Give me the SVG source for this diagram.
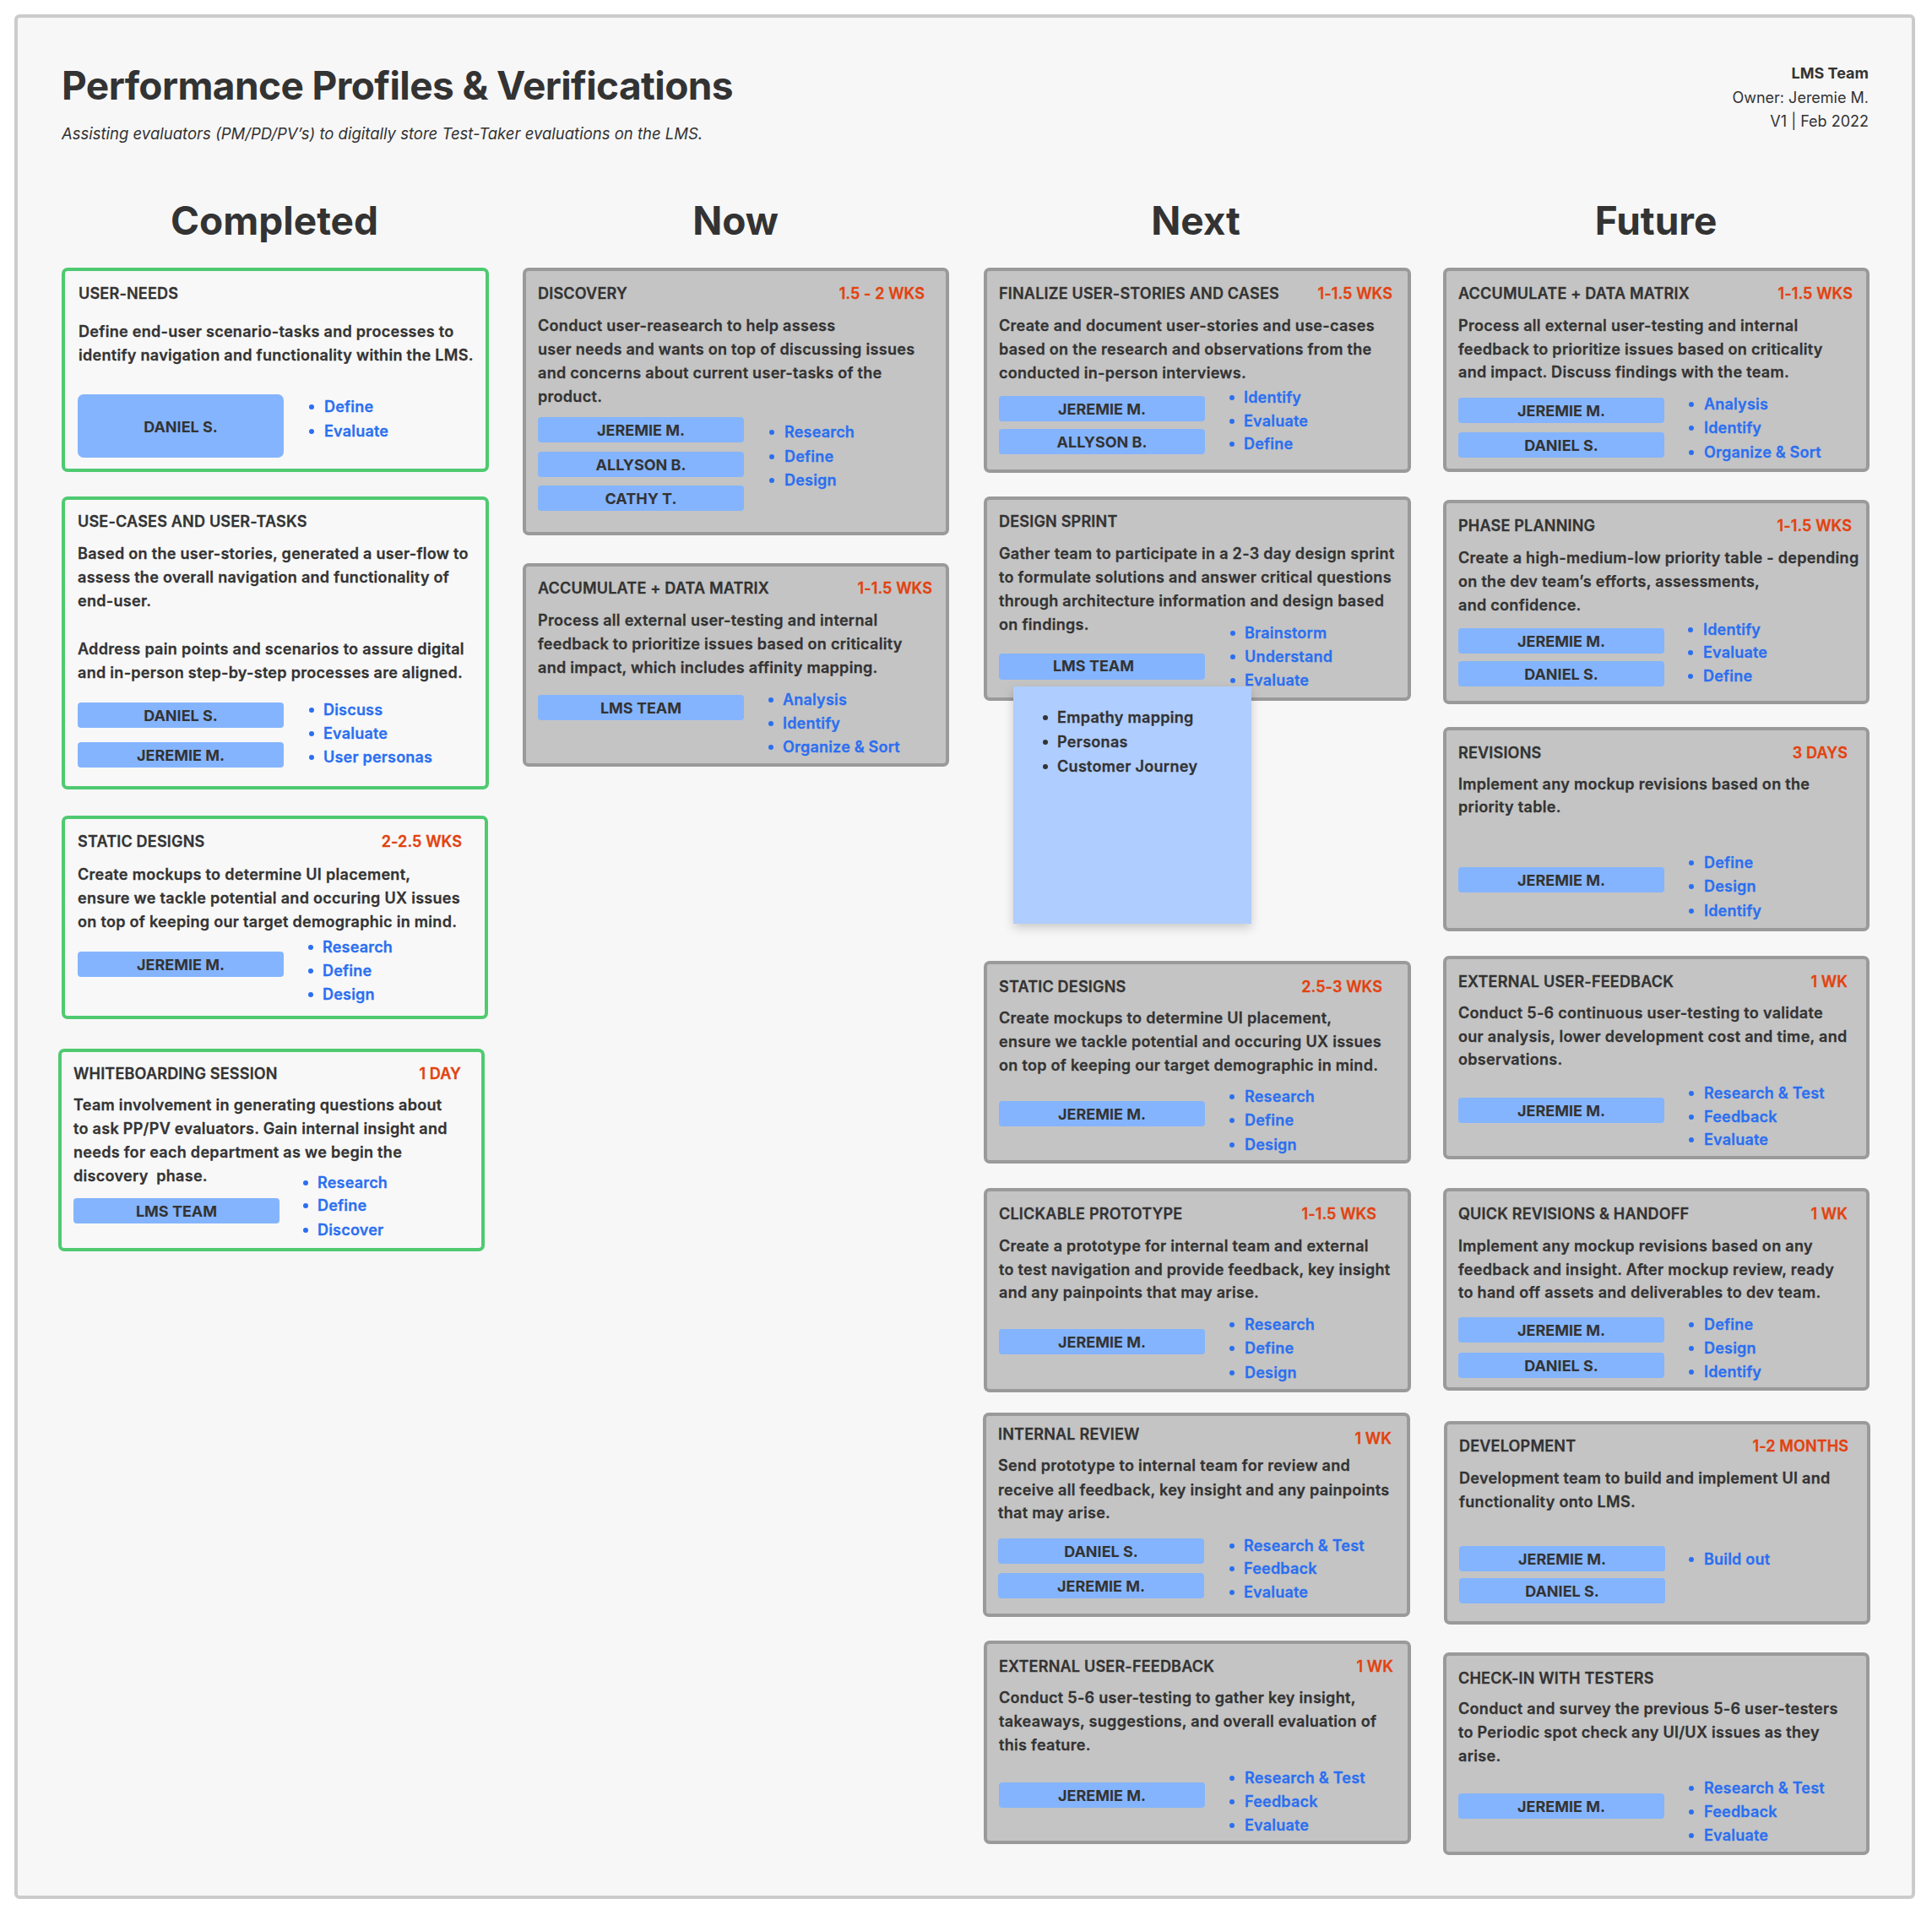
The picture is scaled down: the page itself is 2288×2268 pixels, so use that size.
<svg xmlns="http://www.w3.org/2000/svg" width="2288" height="2268" viewBox="0 0 2288 2268">
  <defs>
    <style>
      text { font-family: Inter, "Liberation Sans", "DejaVu Sans", sans-serif; }
      .frame { fill: #f7f7f7; stroke: #cbcbcb; stroke-width: 4; }
      .done { fill: #f8f8f8; stroke: #4fca71; stroke-width: 4; }
      .card { fill: #c4c4c4; stroke: #9a9a9a; stroke-width: 4; }
      .h1 { font-size: 46px; font-weight: 700; fill: #333333; letter-spacing: -0.6px; }
      .sub { font-size: 18.5px; font-style: italic; font-weight: 400; fill: #333333; }
      .meta { font-size: 18px; font-weight: 400; fill: #333333; text-anchor: end; }
      .metab { font-size: 18px; font-weight: 700; fill: #333333; text-anchor: end; }
      .col { font-size: 46px; font-weight: 700; fill: #333333; text-anchor: middle; }
      .ttl { font-size: 18px; font-weight: 600; fill: #333333; letter-spacing: 0.2px; stroke: #333333; stroke-width: 0.3px; }
      .dur { font-size: 18px; font-weight: 600; fill: #e2420f; text-anchor: end; letter-spacing: 0.1px; stroke: #e2420f; stroke-width: 0.3px; }
      .bd { font-size: 18px; font-weight: 600; fill: #333333; letter-spacing: 0.3px; stroke: #333333; stroke-width: 0.3px; }
      .pill { fill: #84b4fd; }
      .pn { font-size: 18px; font-weight: 700; fill: #333333; text-anchor: middle; }
      .bl { font-size: 18px; font-weight: 600; fill: #2b6ff0; letter-spacing: 0.2px; stroke: #2b6ff0; stroke-width: 0.3px; }
      .dot { fill: #2b6ff0; }
      .sticky { fill: #afcdfe; }
      .sdot { fill: #333333; }
    </style>
    <filter id="shadow" x="-20%" y="-20%" width="140%" height="140%">
      <feDropShadow dx="0" dy="5" stdDeviation="6" flood-color="#000000" flood-opacity="0.18"/>
    </filter>
  </defs>

  <!-- page -->
  <rect x="0" y="0" width="2288" height="2268" fill="#ffffff"/>
  <rect class="frame" x="19" y="19" width="2247" height="2228" rx="4"/>

  <!-- header -->
  <g id="header">
    <text class="h1" x="73" y="118">Performance Profiles &amp; Verifications</text>
    <text class="sub" x="73" y="165">Assisting evaluators (PM/PD/PV’s) to digitally store Test-Taker evaluations on the LMS.</text>
    <text class="metab" x="2213" y="93">LMS Team</text>
    <text class="meta" x="2213" y="122">Owner: Jeremie M.</text>
    <text class="meta" x="2213" y="150">V1 | Feb 2022</text>
  </g>

  <!-- column headings -->
  <g id="columns">
    <text class="col" x="325" y="278">Completed</text>
    <text class="col" x="871" y="278">Now</text>
    <text class="col" x="1416" y="278">Next</text>
    <text class="col" x="1961" y="278">Future</text>
  </g>

  <g id="connectors"/>

  <!-- ===== Completed ===== -->
  <g id="done-user-needs" transform="translate(73,317)">
    <rect class="done" x="2" y="2" width="502" height="238" rx="5"/>
    <text class="ttl" x="20" y="37">USER-NEEDS</text>
    <text class="bd" x="20" y="82">Define end-user scenario-tasks and processes to</text>
    <text class="bd" x="20" y="110">identify navigation and functionality within the LMS.</text>
    <rect class="pill" x="19" y="150" width="244" height="75" rx="7"/>
    <text class="pn" x="141" y="195">DANIEL S.</text>
    <circle class="dot" cx="296" cy="165" r="3"/><text class="bl" x="311" y="171">Define</text>
    <circle class="dot" cx="296" cy="194" r="3"/><text class="bl" x="311" y="200">Evaluate</text>
  </g>

  <g id="done-use-cases" transform="translate(73,588)">
    <rect class="done" x="2" y="2" width="502" height="343" rx="5"/>
    <text class="ttl" x="19" y="36">USE-CASES AND USER-TASKS</text>
    <text class="bd" x="19" y="74">Based on the user-stories, generated a user-flow to</text>
    <text class="bd" x="19" y="102">assess the overall navigation and functionality of</text>
    <text class="bd" x="19" y="130">end-user.</text>
    <text class="bd" x="19" y="187">Address pain points and scenarios to assure digital</text>
    <text class="bd" x="19" y="215">and in-person step-by-step processes are aligned.</text>
    <rect class="pill" x="19" y="244" width="244" height="30" rx="4"/>
    <text class="pn" x="141" y="266">DANIEL S.</text>
    <rect class="pill" x="19" y="291" width="244" height="30" rx="4"/>
    <text class="pn" x="141" y="313">JEREMIE M.</text>
    <circle class="dot" cx="296" cy="253" r="3"/><text class="bl" x="310" y="259">Discuss</text>
    <circle class="dot" cx="296" cy="281" r="3"/><text class="bl" x="310" y="287">Evaluate</text>
    <circle class="dot" cx="296" cy="309" r="3"/><text class="bl" x="310" y="315">User personas</text>
  </g>

  <g id="done-static-designs" transform="translate(73,966)">
    <rect class="done" x="2" y="2" width="501" height="237" rx="5"/>
    <text class="ttl" x="19" y="37">STATIC DESIGNS</text>
    <text class="dur" x="474" y="37">2-2.5 WKS</text>
    <text class="bd" x="19" y="76">Create mockups to determine UI placement,</text>
    <text class="bd" x="19" y="104">ensure we tackle potential and occuring UX issues</text>
    <text class="bd" x="19" y="132">on top of keeping our target demographic in mind.</text>
    <rect class="pill" x="19" y="161" width="244" height="30" rx="4"/>
    <text class="pn" x="141" y="183">JEREMIE M.</text>
    <circle class="dot" cx="295" cy="156" r="3"/><text class="bl" x="309" y="162">Research</text>
    <circle class="dot" cx="295" cy="184" r="3"/><text class="bl" x="309" y="190">Define</text>
    <circle class="dot" cx="295" cy="212" r="3"/><text class="bl" x="309" y="218">Design</text>
  </g>

  <g id="done-whiteboarding" transform="translate(69,1242)">
    <rect class="done" x="2" y="2" width="501" height="236" rx="5"/>
    <text class="ttl" x="18" y="36">WHITEBOARDING SESSION</text>
    <text class="dur" x="477" y="36">1 DAY</text>
    <text class="bd" x="18" y="73">Team involvement in generating questions about</text>
    <text class="bd" x="18" y="101">to ask PP/PV evaluators. Gain internal insight and</text>
    <text class="bd" x="18" y="129">needs for each department as we begin the</text>
    <text class="bd" x="18" y="157" xml:space="preserve">discovery  phase.</text>
    <rect class="pill" x="18" y="177" width="244" height="30" rx="4"/>
    <text class="pn" x="140" y="199">LMS TEAM</text>
    <circle class="dot" cx="293" cy="159" r="3"/><text class="bl" x="307" y="165">Research</text>
    <circle class="dot" cx="293" cy="186" r="3"/><text class="bl" x="307" y="192">Define</text>
    <circle class="dot" cx="293" cy="215" r="3"/><text class="bl" x="307" y="221">Discover</text>
  </g>

  <!-- ===== Now ===== -->
  <g id="now-discovery" transform="translate(619,317)">
    <rect class="card" x="2" y="2" width="501" height="313" rx="5"/>
    <text class="ttl" x="18" y="37">DISCOVERY</text>
    <text class="dur" x="476" y="37">1.5 - 2 WKS</text>
    <text class="bd" x="18" y="75">Conduct user-reasearch to help assess</text>
    <text class="bd" x="18" y="103">user needs and wants on top of discussing issues</text>
    <text class="bd" x="18" y="131">and concerns about current user-tasks of the</text>
    <text class="bd" x="18" y="159">product.</text>
    <rect class="pill" x="18" y="177" width="244" height="30" rx="4"/>
    <text class="pn" x="140" y="199">JEREMIE M.</text>
    <rect class="pill" x="18" y="218" width="244" height="30" rx="4"/>
    <text class="pn" x="140" y="240">ALLYSON B.</text>
    <rect class="pill" x="18" y="258" width="244" height="30" rx="4"/>
    <text class="pn" x="140" y="280">CATHY T.</text>
    <circle class="dot" cx="295" cy="195" r="3"/><text class="bl" x="310" y="201">Research</text>
    <circle class="dot" cx="295" cy="224" r="3"/><text class="bl" x="310" y="230">Define</text>
    <circle class="dot" cx="295" cy="252" r="3"/><text class="bl" x="310" y="258">Design</text>
  </g>

  <g id="now-accumulate" transform="translate(619,667)">
    <rect class="card" x="2" y="2" width="501" height="237" rx="5"/>
    <text class="ttl" x="18" y="36">ACCUMULATE + DATA MATRIX</text>
    <text class="dur" x="485" y="36">1-1.5 WKS</text>
    <text class="bd" x="18" y="74">Process all external user-testing and internal</text>
    <text class="bd" x="18" y="102">feedback to prioritize issues based on criticality</text>
    <text class="bd" x="18" y="130">and impact, which includes affinity mapping.</text>
    <rect class="pill" x="18" y="156" width="244" height="30" rx="4"/>
    <text class="pn" x="140" y="178">LMS TEAM</text>
    <circle class="dot" cx="294" cy="162" r="3"/><text class="bl" x="308" y="168">Analysis</text>
    <circle class="dot" cx="294" cy="190" r="3"/><text class="bl" x="308" y="196">Identify</text>
    <circle class="dot" cx="294" cy="218" r="3"/><text class="bl" x="308" y="224">Organize &amp; Sort</text>
  </g>

  <!-- ===== Next ===== -->
  <g id="next-finalize" transform="translate(1165,317)">
    <rect class="card" x="2" y="2" width="502" height="239" rx="5"/>
    <text class="ttl" x="18" y="37">FINALIZE USER-STORIES AND CASES</text>
    <text class="dur" x="484" y="37">1-1.5 WKS</text>
    <text class="bd" x="18" y="75">Create and document user-stories and use-cases</text>
    <text class="bd" x="18" y="103">based on the research and observations from the</text>
    <text class="bd" x="18" y="131">conducted in-person interviews.</text>
    <rect class="pill" x="18" y="152" width="244" height="30" rx="4"/>
    <text class="pn" x="140" y="174">JEREMIE M.</text>
    <rect class="pill" x="18" y="191" width="244" height="30" rx="4"/>
    <text class="pn" x="140" y="213">ALLYSON B.</text>
    <circle class="dot" cx="294" cy="154" r="3"/><text class="bl" x="308" y="160">Identify</text>
    <circle class="dot" cx="294" cy="182" r="3"/><text class="bl" x="308" y="188">Evaluate</text>
    <circle class="dot" cx="294" cy="209" r="3"/><text class="bl" x="308" y="215">Define</text>
  </g>

  <g id="next-design-sprint" transform="translate(1165,588)">
    <rect class="card" x="2" y="2" width="502" height="238" rx="5"/>
    <text class="ttl" x="18" y="36">DESIGN SPRINT</text>
    <text class="bd" x="18" y="74">Gather team to participate in a 2-3 day design sprint</text>
    <text class="bd" x="18" y="102">to formulate solutions and answer critical questions</text>
    <text class="bd" x="18" y="130">through architecture information and design based</text>
    <text class="bd" x="18" y="158">on findings.</text>
    <rect class="pill" x="18" y="186" width="244" height="31" rx="4"/>
    <text class="pn" x="130" y="207">LMS TEAM</text>
    <circle class="dot" cx="295" cy="162" r="3"/><text class="bl" x="309" y="168">Brainstorm</text>
    <circle class="dot" cx="295" cy="190" r="3"/><text class="bl" x="309" y="196">Understand</text>
    <circle class="dot" cx="295" cy="218" r="3"/><text class="bl" x="309" y="224">Evaluate</text>
  </g>

  <g id="next-sticky-note">
    <rect class="sticky" x="1200" y="813" width="282" height="281" filter="url(#shadow)"/>
    <circle class="sdot" cx="1238" cy="850" r="3"/><text class="bd" x="1252" y="856">Empathy mapping</text>
    <circle class="sdot" cx="1238" cy="879" r="3"/><text class="bd" x="1252" y="885">Personas</text>
    <circle class="sdot" cx="1238" cy="908" r="3"/><text class="bd" x="1252" y="914">Customer Journey</text>
  </g>

  <g id="next-static-designs" transform="translate(1165,1138)">
    <rect class="card" x="2" y="2" width="502" height="236" rx="5"/>
    <text class="ttl" x="18" y="37">STATIC DESIGNS</text>
    <text class="dur" x="472" y="37">2.5-3 WKS</text>
    <text class="bd" x="18" y="74">Create mockups to determine UI placement,</text>
    <text class="bd" x="18" y="102">ensure we tackle potential and occuring UX issues</text>
    <text class="bd" x="18" y="130">on top of keeping our target demographic in mind.</text>
    <rect class="pill" x="18" y="166" width="244" height="30" rx="4"/>
    <text class="pn" x="140" y="188">JEREMIE M.</text>
    <circle class="dot" cx="294" cy="161" r="3"/><text class="bl" x="309" y="167">Research</text>
    <circle class="dot" cx="294" cy="189" r="3"/><text class="bl" x="309" y="195">Define</text>
    <circle class="dot" cx="294" cy="218" r="3"/><text class="bl" x="309" y="224">Design</text>
  </g>

  <g id="next-clickable-prototype" transform="translate(1165,1407)">
    <rect class="card" x="2" y="2" width="502" height="238" rx="5"/>
    <text class="ttl" x="18" y="37">CLICKABLE PROTOTYPE</text>
    <text class="dur" x="465" y="37">1-1.5 WKS</text>
    <text class="bd" x="18" y="75">Create a prototype for internal team and external</text>
    <text class="bd" x="18" y="103">to test navigation and provide feedback, key insight</text>
    <text class="bd" x="18" y="130">and any painpoints that may arise.</text>
    <rect class="pill" x="18" y="167" width="244" height="30" rx="4"/>
    <text class="pn" x="140" y="189">JEREMIE M.</text>
    <circle class="dot" cx="294" cy="162" r="3"/><text class="bl" x="309" y="168">Research</text>
    <circle class="dot" cx="294" cy="190" r="3"/><text class="bl" x="309" y="196">Define</text>
    <circle class="dot" cx="294" cy="219" r="3"/><text class="bl" x="309" y="225">Design</text>
  </g>

  <g id="next-internal-review" transform="translate(1164,1673)">
    <rect class="card" x="2" y="2" width="502" height="238" rx="5"/>
    <text class="ttl" x="18" y="32">INTERNAL REVIEW</text>
    <text class="dur" x="484" y="37">1 WK</text>
    <text class="bd" x="18" y="69">Send prototype to internal team for review and</text>
    <text class="bd" x="18" y="98">receive all feedback, key insight and any painpoints</text>
    <text class="bd" x="18" y="125">that may arise.</text>
    <rect class="pill" x="18" y="149" width="244" height="30" rx="4"/>
    <text class="pn" x="140" y="171">DANIEL S.</text>
    <rect class="pill" x="18" y="190" width="244" height="30" rx="4"/>
    <text class="pn" x="140" y="212">JEREMIE M.</text>
    <circle class="dot" cx="295" cy="158" r="3"/><text class="bl" x="309" y="164">Research &amp; Test</text>
    <circle class="dot" cx="295" cy="185" r="3"/><text class="bl" x="309" y="191">Feedback</text>
    <circle class="dot" cx="295" cy="213" r="3"/><text class="bl" x="309" y="219">Evaluate</text>
  </g>

  <g id="next-external-feedback" transform="translate(1165,1943)">
    <rect class="card" x="2" y="2" width="502" height="237" rx="5"/>
    <text class="ttl" x="18" y="37">EXTERNAL USER-FEEDBACK</text>
    <text class="dur" x="485" y="37">1 WK</text>
    <text class="bd" x="18" y="74">Conduct 5-6 user-testing to gather key insight,</text>
    <text class="bd" x="18" y="102">takeaways, suggestions, and overall evaluation of</text>
    <text class="bd" x="18" y="130">this feature.</text>
    <rect class="pill" x="18" y="168" width="244" height="30" rx="4"/>
    <text class="pn" x="140" y="190">JEREMIE M.</text>
    <circle class="dot" cx="294" cy="163" r="3"/><text class="bl" x="309" y="169">Research &amp; Test</text>
    <circle class="dot" cx="294" cy="191" r="3"/><text class="bl" x="309" y="197">Feedback</text>
    <circle class="dot" cx="294" cy="219" r="3"/><text class="bl" x="309" y="225">Evaluate</text>
  </g>

  <!-- ===== Future ===== -->
  <g id="future-accumulate" transform="translate(1709,317)">
    <rect class="card" x="2" y="2" width="501" height="238" rx="5"/>
    <text class="ttl" x="18" y="37">ACCUMULATE + DATA MATRIX</text>
    <text class="dur" x="485" y="37">1-1.5 WKS</text>
    <text class="bd" x="18" y="75">Process all external user-testing and internal</text>
    <text class="bd" x="18" y="103">feedback to prioritize issues based on criticality</text>
    <text class="bd" x="18" y="130">and impact. Discuss findings with the team.</text>
    <rect class="pill" x="18" y="154" width="244" height="30" rx="4"/>
    <text class="pn" x="140" y="176">JEREMIE M.</text>
    <rect class="pill" x="18" y="195" width="244" height="30" rx="4"/>
    <text class="pn" x="140" y="217">DANIEL S.</text>
    <circle class="dot" cx="294" cy="162" r="3"/><text class="bl" x="309" y="168">Analysis</text>
    <circle class="dot" cx="294" cy="190" r="3"/><text class="bl" x="309" y="196">Identify</text>
    <circle class="dot" cx="294" cy="219" r="3"/><text class="bl" x="309" y="225">Organize &amp; Sort</text>
  </g>

  <g id="future-phase-planning" transform="translate(1709,592)">
    <rect class="card" x="2" y="2" width="501" height="238" rx="5"/>
    <text class="ttl" x="18" y="37">PHASE PLANNING</text>
    <text class="dur" x="484" y="37">1-1.5 WKS</text>
    <text class="bd" x="18" y="75">Create a high-medium-low priority table - depending</text>
    <text class="bd" x="18" y="103">on the dev team’s efforts, assessments,</text>
    <text class="bd" x="18" y="131">and confidence.</text>
    <rect class="pill" x="18" y="152" width="244" height="30" rx="4"/>
    <text class="pn" x="140" y="174">JEREMIE M.</text>
    <rect class="pill" x="18" y="191" width="244" height="30" rx="4"/>
    <text class="pn" x="140" y="213">DANIEL S.</text>
    <circle class="dot" cx="293" cy="154" r="3"/><text class="bl" x="308" y="160">Identify</text>
    <circle class="dot" cx="293" cy="181" r="3"/><text class="bl" x="308" y="187">Evaluate</text>
    <circle class="dot" cx="293" cy="209" r="3"/><text class="bl" x="308" y="215">Define</text>
  </g>

  <g id="future-revisions" transform="translate(1709,861)">
    <rect class="card" x="2" y="2" width="501" height="238" rx="5"/>
    <text class="ttl" x="18" y="37">REVISIONS</text>
    <text class="dur" x="479" y="37">3 DAYS</text>
    <text class="bd" x="18" y="74">Implement any mockup revisions based on the</text>
    <text class="bd" x="18" y="101">priority table.</text>
    <rect class="pill" x="18" y="166" width="244" height="30" rx="4"/>
    <text class="pn" x="140" y="188">JEREMIE M.</text>
    <circle class="dot" cx="294" cy="161" r="3"/><text class="bl" x="309" y="167">Define</text>
    <circle class="dot" cx="294" cy="189" r="3"/><text class="bl" x="309" y="195">Design</text>
    <circle class="dot" cx="294" cy="218" r="3"/><text class="bl" x="309" y="224">Identify</text>
  </g>

  <g id="future-external-feedback" transform="translate(1709,1132)">
    <rect class="card" x="2" y="2" width="501" height="237" rx="5"/>
    <text class="ttl" x="18" y="37">EXTERNAL USER-FEEDBACK</text>
    <text class="dur" x="479" y="37">1 WK</text>
    <text class="bd" x="18" y="74">Conduct 5-6 continuous user-testing to validate</text>
    <text class="bd" x="18" y="102">our analysis, lower development cost and time, and</text>
    <text class="bd" x="18" y="129">observations.</text>
    <rect class="pill" x="18" y="168" width="244" height="30" rx="4"/>
    <text class="pn" x="140" y="190">JEREMIE M.</text>
    <circle class="dot" cx="294" cy="163" r="3"/><text class="bl" x="309" y="169">Research &amp; Test</text>
    <circle class="dot" cx="294" cy="191" r="3"/><text class="bl" x="309" y="197">Feedback</text>
    <circle class="dot" cx="294" cy="218" r="3"/><text class="bl" x="309" y="224">Evaluate</text>
  </g>

  <g id="future-quick-revisions" transform="translate(1709,1407)">
    <rect class="card" x="2" y="2" width="501" height="236" rx="5"/>
    <text class="ttl" x="18" y="37">QUICK REVISIONS &amp; HANDOFF</text>
    <text class="dur" x="479" y="37">1 WK</text>
    <text class="bd" x="18" y="75">Implement any mockup revisions based on any</text>
    <text class="bd" x="18" y="103">feedback and insight. After mockup review, ready</text>
    <text class="bd" x="18" y="130">to hand off assets and deliverables to dev team.</text>
    <rect class="pill" x="18" y="153" width="244" height="30" rx="4"/>
    <text class="pn" x="140" y="175">JEREMIE M.</text>
    <rect class="pill" x="18" y="195" width="244" height="30" rx="4"/>
    <text class="pn" x="140" y="217">DANIEL S.</text>
    <circle class="dot" cx="294" cy="162" r="3"/><text class="bl" x="309" y="168">Define</text>
    <circle class="dot" cx="294" cy="190" r="3"/><text class="bl" x="309" y="196">Design</text>
    <circle class="dot" cx="294" cy="218" r="3"/><text class="bl" x="309" y="224">Identify</text>
  </g>

  <g id="future-development" transform="translate(1710,1683)">
    <rect class="card" x="2" y="2" width="501" height="237" rx="5"/>
    <text class="ttl" x="18" y="36">DEVELOPMENT</text>
    <text class="dur" x="479" y="36">1-2 MONTHS</text>
    <text class="bd" x="18" y="74">Development team to build and implement UI and</text>
    <text class="bd" x="18" y="102">functionality onto LMS.</text>
    <rect class="pill" x="18" y="148" width="244" height="30" rx="4"/>
    <text class="pn" x="140" y="170">JEREMIE M.</text>
    <rect class="pill" x="18" y="186" width="244" height="30" rx="4"/>
    <text class="pn" x="140" y="208">DANIEL S.</text>
    <circle class="dot" cx="293" cy="164" r="3"/><text class="bl" x="308" y="170">Build out</text>
  </g>

  <g id="future-check-in" transform="translate(1709,1957)">
    <rect class="card" x="2" y="2" width="501" height="236" rx="5"/>
    <text class="ttl" x="18" y="37">CHECK-IN WITH TESTERS</text>
    <text class="bd" x="18" y="73">Conduct and survey the previous 5-6 user-testers</text>
    <text class="bd" x="18" y="101">to Periodic spot check any UI/UX issues as they</text>
    <text class="bd" x="18" y="129">arise.</text>
    <rect class="pill" x="18" y="167" width="244" height="30" rx="4"/>
    <text class="pn" x="140" y="189">JEREMIE M.</text>
    <circle class="dot" cx="294" cy="161" r="3"/><text class="bl" x="309" y="167">Research &amp; Test</text>
    <circle class="dot" cx="294" cy="189" r="3"/><text class="bl" x="309" y="195">Feedback</text>
    <circle class="dot" cx="294" cy="217" r="3"/><text class="bl" x="309" y="223">Evaluate</text>
  </g>
</svg>
